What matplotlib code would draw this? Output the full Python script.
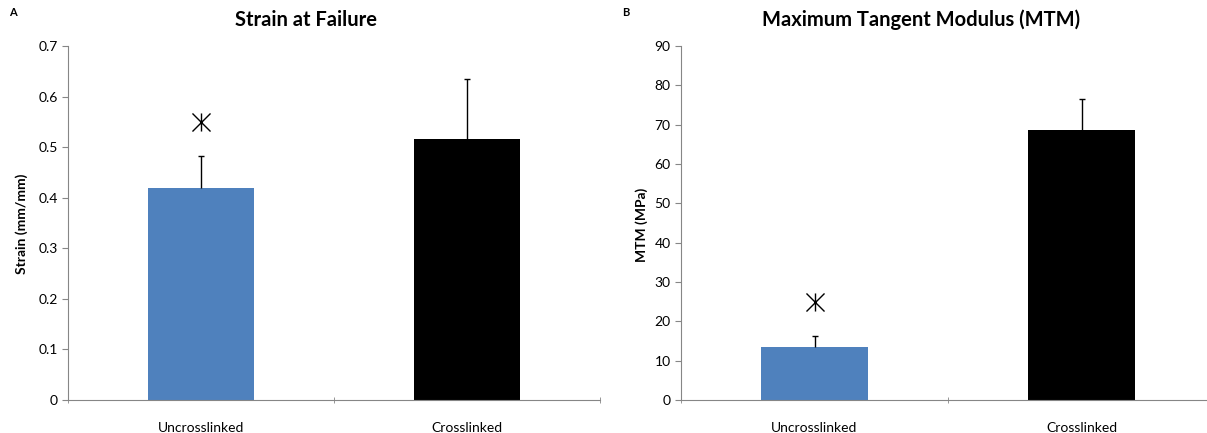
import numpy as np
import matplotlib.pyplot as plt
from matplotlib.path import Path

categories = ['Uncrosslinked', 'Crosslinked']
colors = ['#4F81BD', '#000000']

strain = [0.419, 0.516]
strain_err = [0.064, 0.119]
strain_star = 0.55

mtm = [13.5, 68.6]
mtm_err = [2.8, 8.0]
mtm_star = 25

plt.rcParams['font.family'] = ['Lato', 'DejaVu Sans']

W, H = 1207, 433
fig = plt.figure(figsize=(W / 100, H / 100), dpi=100)

# Excel-style star: an X with a vertical stroke through it
star_marker = Path([(-1, -1), (1, 1), (-1, 1), (1, -1), (0, -1), (0, 1)],
                   [Path.MOVETO, Path.LINETO] * 3)


def px_axes(x0, x1, y0, y1):
    # pixel box -> figure fraction
    return fig.add_axes([x0 / W, 1 - y1 / H, (x1 - x0) / W, (y1 - y0) / H])


def draw_panel(ax, vals, errs, star, ymax, step, fmt):
    x = np.arange(len(categories))
    vals = np.array(vals)
    errs = np.array(errs)
    ax.bar(x, vals, width=0.4, color=colors, zorder=2)
    # upper error bars only, with a small cap
    ax.vlines(x, vals, vals + errs, color='black', linewidth=1, zorder=3)
    ax.plot(x, vals + errs, marker='_', markersize=4, color='black',
            markeredgewidth=1, linestyle='none', zorder=3)
    ax.plot(x[0], star, marker=star_marker, markersize=13, color='black',
            markerfacecolor='none', markeredgewidth=1, linestyle='none',
            zorder=4)
    ax.set_xlim(-0.5, len(categories) - 0.5)
    ax.set_ylim(0, ymax)
    ticks = np.arange(0, ymax + step / 2, step)
    ax.set_yticks(ticks)
    ax.set_yticklabels([fmt(v) for v in ticks])
    ax.set_xticks(x)
    ax.set_xticklabels(categories, fontsize=10)
    ax.set_xticks([-0.5, 0.5, 1.5], minor=True)
    ax.tick_params(axis='x', which='major', length=0, pad=16)
    ax.tick_params(axis='x', which='minor', length=4, direction='inout',
                   color='#868686')
    ax.tick_params(axis='y', length=4, color='#868686', labelsize=10)
    for s in ['top', 'right']:
        ax.spines[s].set_visible(False)
    for s in ['left', 'bottom']:
        ax.spines[s].set_color('#868686')


ax1 = px_axes(68, 600, 46, 400)
draw_panel(ax1, strain, strain_err, strain_star, 0.7, 0.1,
           lambda v: '0' if v == 0 else f'{v:.1f}')

ax2 = px_axes(681, 1215, 46, 400)
draw_panel(ax2, mtm, mtm_err, mtm_star, 90, 10, lambda v: f'{v:.0f}')

fig.text(306 / W, 1 - 20 / H, 'Strain at Failure', ha='center', va='center',
         fontsize=14.5, fontweight='bold')
fig.text(921 / W, 1 - 20 / H, 'Maximum Tangent Modulus (MTM)', ha='center',
         va='center', fontsize=14.5, fontweight='bold')
fig.text(13 / W, 1 - 13 / H, 'A', ha='center', va='center', fontsize=8,
         fontweight='bold')
fig.text(626 / W, 1 - 13 / H, 'B', ha='center', va='center', fontsize=8,
         fontweight='bold')
fig.text(22 / W, 1 - 224 / H, 'Strain (mm/mm)', rotation=90, ha='center',
         va='center', fontsize=10, fontweight='bold')
fig.text(642 / W, 1 - 225 / H, 'MTM (MPa)', rotation=90, ha='center',
         va='center', fontsize=10, fontweight='bold')

fig.savefig('out.png', dpi=100)
